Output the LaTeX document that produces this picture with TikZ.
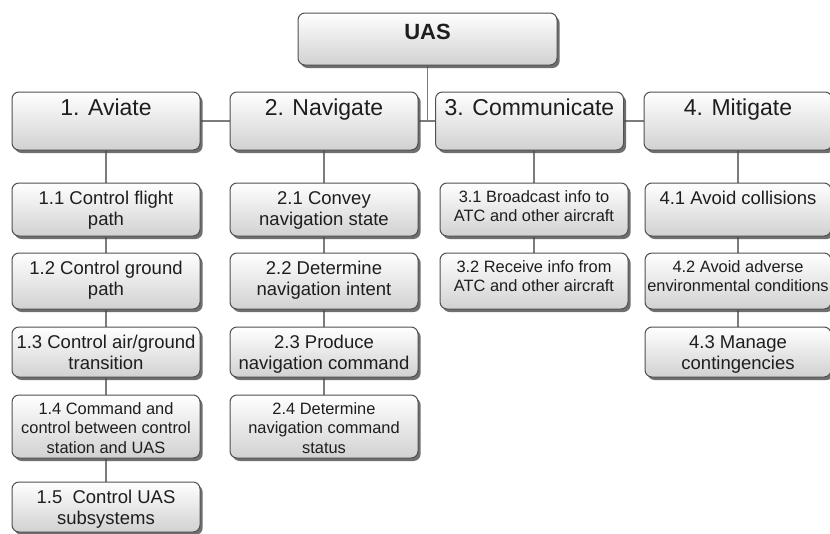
\documentclass[tikz,border=0pt]{standalone}
\usepackage{fontspec}
\setmainfont{Liberation Sans}
\usetikzlibrary{shadows,backgrounds}

\definecolor{frame}{HTML}{505050}
\definecolor{wire}{HTML}{7C7C7C}
\definecolor{ink}{HTML}{1E1E1E}

% centred multi-line caption whose reference point is the first baseline
\newcommand\stack[1]{\parbox[t]{320pt}{\centering #1}}

\tikzset{
  card/.style={draw=frame, line width=1pt, rounded corners=7pt, inner sep=0pt,
    top color=white, bottom color=black!18,
    drop shadow={shadow xshift=2.6pt, shadow yshift=-3pt, fill=black!70, opacity=0.8}},
  rootbox/.style={card, minimum width=259pt, minimum height=52pt},
  headbox/.style={card, minimum width=188pt, minimum height=58pt},
  leaf/.style 2 args={card, minimum width=#1, minimum height=#2},
  caption/.style={anchor=base, inner sep=0pt, text=ink},
  rootlabel/.style={caption, font=\fontsize{22}{26}\selectfont\bfseries},
  headlabel/.style={caption, font=\fontsize{23}{27}\selectfont},
  biglabel/.style={caption, font=\fontsize{18.5}{21.5}\selectfont},
  smalllabel/.style={caption, font=\fontsize{16.4}{19.5}\selectfont},
  link/.style={draw=wire, line width=1.3pt},
}

\begin{document}
\begin{tikzpicture}[x=1pt, y=-1pt]
\useasboundingbox (0,0) rectangle (830,533);

% root
\node[rootbox] (uas) at (427.5,39) {};
\node[rootlabel] (uas-t) at ([yshift=-27pt]uas.north) {UAS};

% first level
\node[headbox] (av) at (106,121) {};
\node[headbox] (nv) at (324,121) {};
\node[headbox] (cm) at (529.5,121) {};
\node[headbox] (mt) at (738,121) {};
\node[headlabel] (av-t) at ([yshift=-24pt]av.north) {1. Aviate};
\node[headlabel] (nv-t) at ([yshift=-24pt]nv.north) {2. Navigate};
\node[headlabel] (cm-t) at ([yshift=-24pt]cm.north) {3. Communicate};
\node[headlabel] (mt-t) at ([yshift=-24pt]mt.north) {4. Mitigate};

% 1. Aviate
\node[leaf={188pt}{53pt}] (a1) at (106,209.5) {};
\node[leaf={188pt}{56pt}] (a2) at (106,281) {};
\node[leaf={188pt}{50pt}] (a3) at (106,352) {};
\node[leaf={188pt}{63pt}] (a4) at (106,426.5) {};
\node[leaf={188pt}{50pt}] (a5) at (106,507) {};
\node[biglabel] (a1-t) at ([yshift=-21.5pt]a1.north) {\stack{1.1 Control flight\\path}};
\node[biglabel] (a2-t) at ([yshift=-21.5pt]a2.north) {\stack{1.2 Control ground\\path}};
\node[biglabel] (a3-t) at ([yshift=-21.5pt]a3.north) {\stack{1.3 Control air/ground\\transition}};
\node[smalllabel] (a4-t) at ([yshift=-19.5pt]a4.north) {\stack{1.4 Command and\\control between control\\station and UAS}};
\node[biglabel] (a5-t) at ([yshift=-21.5pt]a5.north) {\stack{1.5~~Control UAS\\subsystems}};

% 2. Navigate
\node[leaf={188pt}{53pt}] (n1) at (324,209.5) {};
\node[leaf={188pt}{56pt}] (n2) at (324,281) {};
\node[leaf={188pt}{50pt}] (n3) at (324,352) {};
\node[leaf={188pt}{63pt}] (n4) at (324,426.5) {};
\node[biglabel] (n1-t) at ([yshift=-21.5pt]n1.north) {\stack{2.1 Convey\\navigation state}};
\node[biglabel] (n2-t) at ([yshift=-21.5pt]n2.north) {\stack{2.2 Determine\\navigation intent}};
\node[biglabel] (n3-t) at ([yshift=-21.5pt]n3.north) {\stack{2.3 Produce\\navigation command}};
\node[smalllabel] (n4-t) at ([yshift=-19.5pt]n4.north) {\stack{2.4 Determine\\navigation command\\status}};

% 3. Communicate
\node[leaf={188pt}{53pt}] (c1) at (534,209.5) {};
\node[leaf={188pt}{56pt}] (c2) at (534,281) {};
\node[smalllabel] (c1-t) at ([yshift=-19.5pt]c1.north) {\stack{3.1 Broadcast info to\\ATC and other aircraft}};
\node[smalllabel] (c2-t) at ([yshift=-19.5pt]c2.north) {\stack{3.2 Receive info from\\ATC and other aircraft}};

% 4. Mitigate
\node[leaf={186pt}{53pt}] (m1) at (738,209.5) {};
\node[leaf={186pt}{56pt}] (m2) at (738,281) {};
\node[leaf={186pt}{50pt}] (m3) at (738,352) {};
\node[biglabel] (m1-t) at ([yshift=-21.5pt]m1.north) {\stack{4.1 Avoid collisions}};
\node[smalllabel] (m2-t) at ([yshift=-19.5pt]m2.north) {\stack{4.2 Avoid adverse\\environmental conditions}};
\node[biglabel] (m3-t) at ([yshift=-21.5pt]m3.north) {\stack{4.3 Manage\\contingencies}};

% connectors behind the boxes
\begin{scope}[on background layer]
  \fill[white] (0,0) rectangle (830,533);
  \draw[link] (av.east) -- (nv.west) (nv.east) -- (cm.west) (cm.east) -- (mt.west);
  \draw[link] (uas.south) -- (uas.south |- nv.east);
  \draw[link] (av.south) -- (a1.north) (a1.south) -- (a2.north) (a2.south) -- (a3.north)
              (a3.south) -- (a4.north) (a4.south) -- (a5.north);
  \draw[link] (nv.south) -- (n1.north) (n1.south) -- (n2.north) (n2.south) -- (n3.north)
              (n3.south) -- (n4.north);
  \draw[link] (c1.north) -- (c1.north |- cm.south) (c1.south) -- (c2.north);
  \draw[link] (mt.south) -- (m1.north) (m1.south) -- (m2.north) (m2.south) -- (m3.north);
\end{scope}
\end{tikzpicture}
\end{document}
